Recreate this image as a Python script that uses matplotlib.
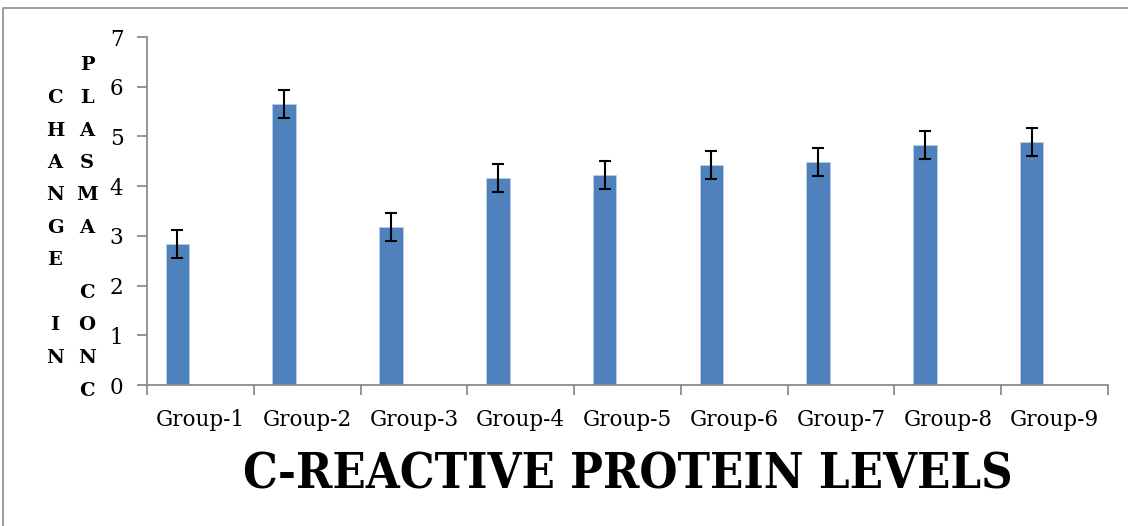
import numpy as np
import matplotlib.pyplot as plt
from matplotlib.patches import Rectangle

groups = ['Group-1', 'Group-2', 'Group-3', 'Group-4', 'Group-5',
          'Group-6', 'Group-7', 'Group-8', 'Group-9']
crp = [2.83, 5.65, 3.18, 4.17, 4.22, 4.43, 4.48, 4.82, 4.88]
err = [0.28, 0.28, 0.28, 0.28, 0.28, 0.28, 0.28, 0.28, 0.28]
yticks = [0, 1, 2, 3, 4, 5, 6, 7]
ylab_left = 'CHANGE IN'
ylab_right = 'PLASMA CONC'
title = 'C-REACTIVE PROTEIN LEVELS'

W, H = 1128, 526
fig = plt.figure(figsize=(W / 100, H / 100), dpi=100)
ax = fig.add_axes([147 / W, 1 - 385 / H, (1108 - 147) / W, (385 - 37) / H])

axis_col = '#8c8c8c'
x = np.arange(len(groups))
# the series sits left of the category centre (as in a clustered chart)
ax.bar(x - 0.215, crp, width=0.22, color='#4F81BD', edgecolor='#b9cde5', linewidth=0.6)
ax.errorbar(x - 0.215, crp, yerr=err, fmt='none', ecolor='black', elinewidth=1.5,
            capsize=4.5, capthick=1.5)

ax.set_xlim(-0.5, len(groups) - 0.5)
ax.set_ylim(0, 7)
ax.set_yticks(yticks)
ax.set_xticks(x)
ax.set_xticklabels(groups)
ax.set_xticks(np.arange(len(groups) + 1) - 0.5, minor=True)
ax.tick_params(axis='x', which='major', length=0, pad=17)
ax.tick_params(axis='x', which='minor', length=7, color=axis_col, width=1.3)
ax.tick_params(axis='y', length=7, color=axis_col, width=1.3, pad=10)
for lab in ax.get_xticklabels() + ax.get_yticklabels():
    lab.set_family('DejaVu Serif')
    lab.set_fontsize(15.5)
    lab.set_fontweight('light')

for s in ['top', 'right']:
    ax.spines[s].set_visible(False)
for s in ['left', 'bottom']:
    ax.spines[s].set_color(axis_col)
    ax.spines[s].set_linewidth(1.3)

ax.set_xlabel(title, family='DejaVu Serif', fontstretch='condensed',
              fontweight='bold', fontsize=35, labelpad=15)

# stacked vertical letters for the y label
step = 32.5
for col_x, text in [(55, ylab_left), (87, ylab_right)]:
    n = len(text)
    y0 = 228 - step * (n - 1) / 2
    for i, ch in enumerate(text):
        if ch == ' ':
            continue
        fig.text(col_x / W, 1 - (y0 + i * step) / H, ch, ha='center', va='center',
                 family='DejaVu Serif', fontweight='bold', fontsize=14)

# outer frame of the chart area
fig.patches.append(Rectangle((2.5 / W, -0.1), 1.2, 1 - 7.5 / H + 0.1,
                             transform=fig.transFigure, fill=False,
                             edgecolor='#8c8c8c', linewidth=1.2))

fig.savefig('out.png', dpi=100)
